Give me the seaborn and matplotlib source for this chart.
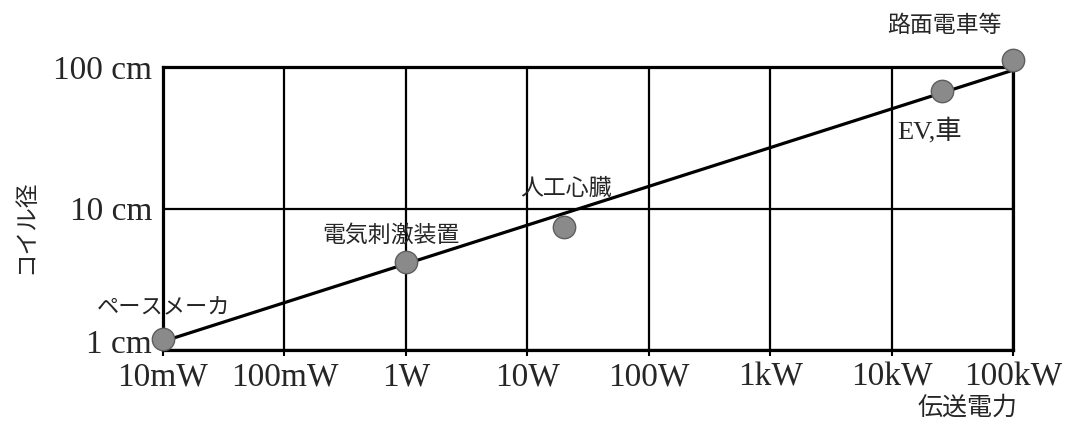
import matplotlib
matplotlib.use("Agg")
import matplotlib.pyplot as plt
import matplotlib.transforms as mtransforms
import seaborn as sns
import pandas as pd

# ---- data ----
power_ticks = [0.01, 0.1, 1, 10, 100, 1e3, 1e4, 1e5]
power_tick_labels = ["10mW", "100mW", "1W", "10W", "100W", "1kW", "10kW", "100kW"]
size_ticks = [1, 10, 100]
size_tick_labels = ["1 cm", "10 cm", "100 cm"]

app_names = ["ペースメーカ", "電気刺激装置", "人工心臓", "EV,車", "路面電車等"]
app_power = [0.01, 1.0, 20.0, 26000.0, 1e5]       # W
app_coil = [1.2, 4.2, 7.4, 68.0, 112.0]           # cm

trend_power = [0.01, 1e5]
trend_coil = [1.15, 95.0]

x_label = "伝送電力"
y_label = "コイル径"

# ---- style ----
sns.set_style("white")
plt.rcParams["font.family"] = ["Noto Sans CJK JP", "DejaVu Sans"]

fig = plt.figure(figsize=(10.65, 4.26), dpi=100)
W, H = 1065, 426
ax = fig.add_axes([163 / W, 1 - 350 / H, (1013 - 163) / W, (350 - 67) / H])

pts = pd.DataFrame({"power": app_power, "coil": app_coil, "name": app_names})
trend = pd.DataFrame({"power": trend_power, "coil": trend_coil})

ax.set_xscale("log")
ax.set_yscale("log")
ax.set_xlim(power_ticks[0], power_ticks[-1])
ax.set_ylim(size_ticks[0], size_ticks[-1])

# grid
for xv in power_ticks:
    ax.axvline(xv, color="black", lw=1.6, zorder=1)
for yv in size_ticks:
    ax.axhline(yv, color="black", lw=1.6, zorder=1)

sns.lineplot(data=trend, x="power", y="coil", ax=ax, color="black", lw=2.3,
             zorder=3, legend=False)
sns.scatterplot(data=pts, x="power", y="coil", ax=ax, s=260,
                color="#8a8a8a", edgecolor="#5e5e5e", linewidth=1.0,
                zorder=5, legend=False)
for coll in ax.collections:
    coll.set_clip_on(False)

for sp in ax.spines.values():
    sp.set_color("black")
    sp.set_linewidth(2.3)
    sp.set_zorder(2)

ax.set_xticks(power_ticks)
ax.set_xticklabels(power_tick_labels, family="Liberation Serif", fontsize=24)
ax.set_yticks(size_ticks)
ax.set_yticklabels(size_tick_labels, family="Liberation Serif", fontsize=24)
ax.minorticks_off()
ax.tick_params(axis="x", length=4, width=1.5, color="black", pad=5, bottom=True)
ax.tick_params(axis="y", length=0, pad=8)
ax.set_xlabel("")
ax.set_ylabel("")

# the "1 cm" label sits a little above the bottom frame in the reference
lab0 = ax.get_yticklabels()[0]
lab0.set_transform(lab0.get_transform() +
                   mtransforms.ScaledTranslation(0, 9 / 100, fig.dpi_scale_trans))

offsets_px = [(1, 31), (-15, 27), (2, 39), (-12, -40), (-69, 35)]
sizes = [16, 16.5, 16.5, 19, 16.5]
for name, xp, yp, (dx, dy), fs in zip(app_names, app_power, app_coil, offsets_px, sizes):
    if name == "EV,車":
        fam = ["Liberation Serif", "Noto Sans CJK JP"]
    else:
        fam = ["Noto Sans CJK JP", "DejaVu Sans"]
    ax.annotate(name, xy=(xp, yp), xytext=(dx * 0.72, dy * 0.72),
                textcoords="offset points", ha="center", va="center",
                fontsize=fs, family=fam, annotation_clip=False, zorder=6)

fig.text(26 / W, 1 - 227 / H, y_label, rotation=90, ha="center", va="center",
         fontsize=17, family=["Noto Sans CJK JP", "DejaVu Sans"])
fig.text(967 / W, 1 - 408 / H, x_label, ha="center", va="center",
         fontsize=18, family=["Noto Sans CJK JP", "DejaVu Sans"])

fig.savefig("out.png", dpi=100, facecolor="white")
